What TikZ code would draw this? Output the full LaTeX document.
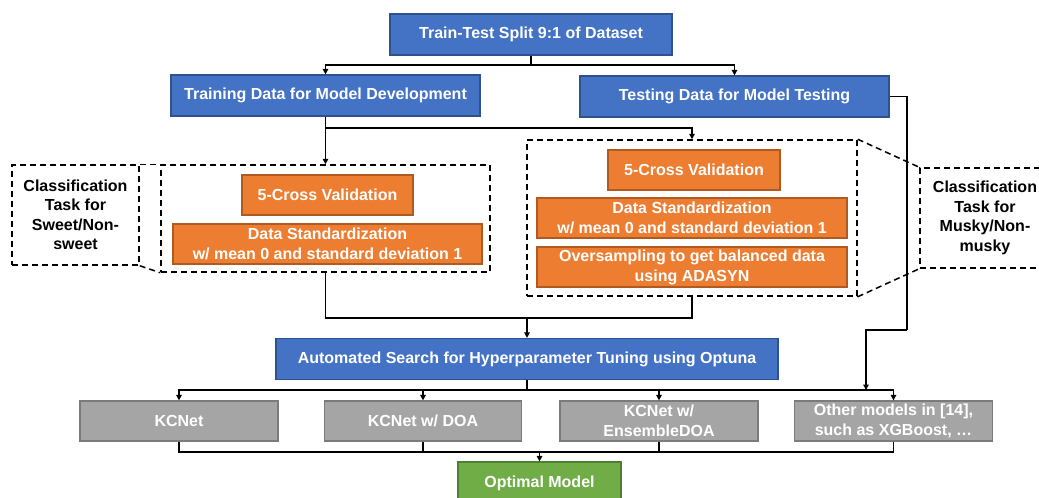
\documentclass[tikz,border=0pt]{standalone}
\usepackage{fontspec}
\setmainfont{Liberation Sans}
\usetikzlibrary{arrows.meta}
\definecolor{blueC}{HTML}{4472C4}
\definecolor{blueD}{HTML}{2F528F}
\definecolor{orangeC}{HTML}{ED7D31}
\definecolor{orangeD}{HTML}{AE5A21}
\definecolor{grayC}{HTML}{A5A5A5}
\definecolor{grayD}{HTML}{7B7B7B}
\definecolor{greenC}{HTML}{70AD47}
\definecolor{greenD}{HTML}{507E32}
\tikzset{
  basebox/.style={line width=1.2pt, text=white, inner sep=0pt, align=center,
    font=\bfseries\fontsize{16}{20}\selectfont},
  boxblue/.style={basebox, draw=blueD, fill=blueC},
  boxorange/.style={basebox, draw=orangeD, fill=orangeC},
  boxgray/.style={basebox, draw=grayD, fill=grayC},
  boxgreen/.style={basebox, draw=greenD, fill=greenC},
  dashbox/.style={draw=black, line width=1.5pt, dash pattern=on 6pt off 4pt, inner sep=0pt, align=center,
    font=\bfseries\fontsize{16}{19.5}\selectfont},
  callout/.style={draw=black, line width=1.5pt, dash pattern=on 6pt off 4pt},
  conn/.style={draw=black, line width=1.5pt},
  arr/.style={conn, -{Triangle[length=5.5pt,width=5.5pt]}},
}
\begin{document}
\begin{tikzpicture}[x=1pt,y=-1pt]
\useasboundingbox (0,0) rectangle (1039,498);
% dashed groups
\node[dashbox, minimum width=329pt, minimum height=107pt] (leftdash) at (325.5,218.5) {};
\node[dashbox, minimum width=330pt, minimum height=156pt] (rightdash) at (692,218) {};
\node[dashbox, minimum width=127pt, minimum height=100pt] (leftlabel) at (75.5,215) {Classification\\Task for\\Sweet/Non-\\sweet};
\node[dashbox, minimum width=130pt, minimum height=100pt] (rightlabel) at (985,218) {Classification\\Task for\\Musky/Non-\\musky};
% blue
\node[boxblue, minimum width=282pt, minimum height=41pt] (split) at (531,34.5) {Train-Test Split 9:1 of Dataset};
\node[boxblue, minimum width=309pt, minimum height=41pt] (train) at (325.5,95.5) {Training Data for Model Development};
\node[boxblue, minimum width=309pt, minimum height=41pt] (test) at (734.5,96.5) {Testing Data for Model Testing};
\node[boxblue, minimum width=502pt, minimum height=41pt] (auto) at (527,359) {Automated Search for Hyperparameter Tuning using Optuna};
% orange
\node[boxorange, minimum width=171pt, minimum height=40pt] (cvL) at (327.5,195) {5-Cross Validation};
\node[boxorange, minimum width=309pt, minimum height=40pt] (stdL) at (327.5,244) {Data Standardization\\w/ mean 0 and standard deviation 1};
\node[boxorange, minimum width=172pt, minimum height=40pt] (cvR) at (694,170) {5-Cross Validation};
\node[boxorange, minimum width=310pt, minimum height=40pt] (stdR) at (692,218) {Data Standardization\\w/ mean 0 and standard deviation 1};
\node[boxorange, minimum width=310pt, minimum height=40pt] (overR) at (692,267) {Oversampling to get balanced data\\using ADASYN};
% gray
\node[boxgray, minimum width=198pt, minimum height=40pt] (g1) at (179,421) {KCNet};
\node[boxgray, minimum width=197pt, minimum height=40pt] (g2) at (423,421) {KCNet w/ DOA};
\node[boxgray, minimum width=198pt, minimum height=40pt] (g3) at (659,421) {KCNet w/\\EnsembleDOA};
\node[boxgray, minimum width=198pt, minimum height=40pt] (g4) at (893.5,421) {Other models in [14],\\such as XGBoost, \dots};
% green
\node[boxgreen, minimum width=163pt, minimum height=42pt] (opt) at (539.5,483) {Optimal Model};
% callouts
\draw[callout] (leftlabel.north east) -- (leftdash.north west);
\draw[callout] (leftlabel.south east) -- (leftdash.south west);
\draw[callout] (rightdash.north east) -- (rightlabel.north west);
\draw[callout] (rightdash.south east) -- (rightlabel.south west);
% junctions
\coordinate (j1) at (531,65);
\coordinate (j2) at (325.5,128);
\coordinate (j3) at (527,318);
\coordinate (j4) at (527,390);
\coordinate (t1) at (907,330);
\coordinate (t2) at (866,390);
\coordinate (j6) at (539.5,452);
% connectors
\draw[conn] (split.south) -- (j1);
\draw[arr] (j1) -| (train.north);
\draw[arr] (j1) -| (test.north);
\draw[arr] (train.south) -- (leftdash.north);
\draw[arr] (j2) -| (rightdash.north);
\draw[conn] (leftdash.south) |- (j3);
\draw[conn] (rightdash.south) |- (j3);
\draw[arr] (j3) -- (auto.north);
\draw[conn] (test.east) -| (t1);
\draw[arr] (t1) -| (t2);
\draw[conn] (auto.south) -- (j4);
\draw[arr] (j4) -| (g1.north);
\draw[arr] (j4) -| (g2.north);
\draw[arr] (j4) -| (g3.north);
\draw[arr] (j4) -| (g4.north);
\draw[conn] (g1.south) |- (j6);
\draw[conn] (g2.south) |- (j6);
\draw[conn] (g3.south) |- (j6);
\draw[conn] (g4.south) |- (j6);
\draw[arr] (j6) -- (opt.north);
\end{tikzpicture}
\end{document}
